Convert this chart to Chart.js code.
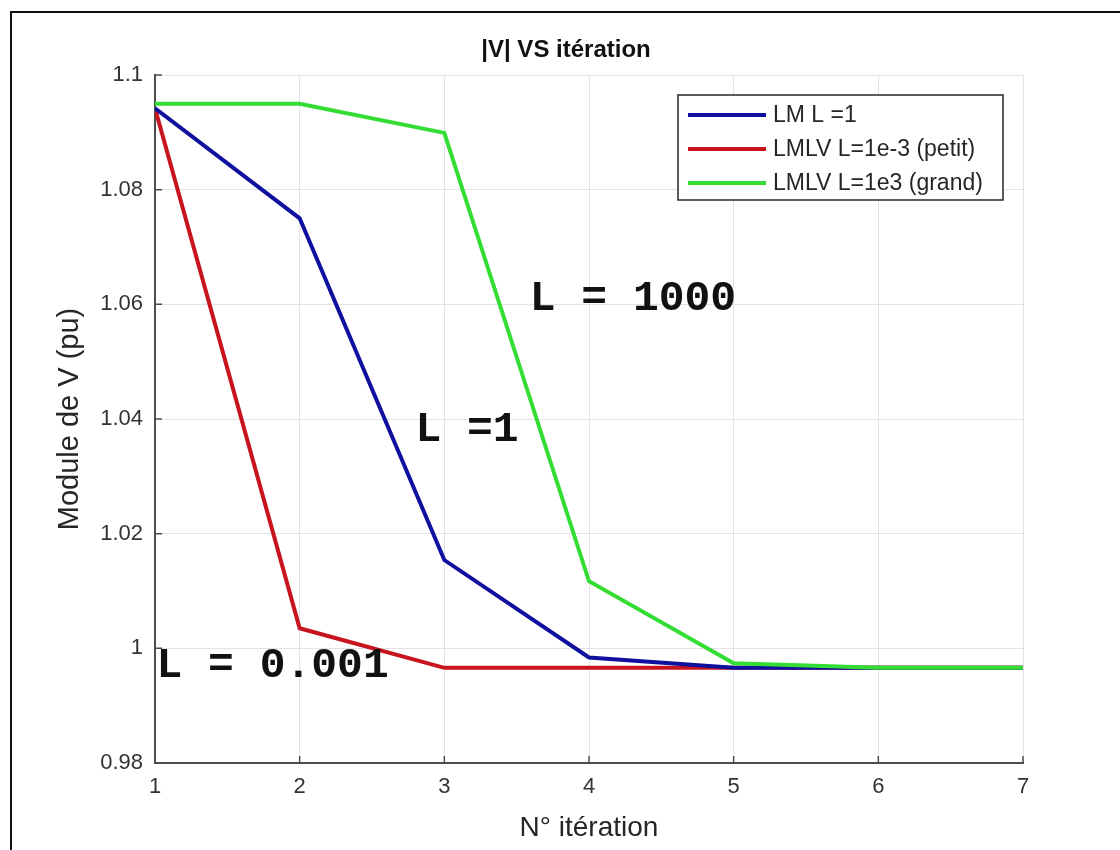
<!DOCTYPE html>
<html>
<head>
<meta charset="utf-8">
<script src="https://cdn.jsdelivr.net/npm/chart.js@4.4.1/dist/chart.umd.min.js"></script>
<style>
    html, body { margin: 0; padding: 0; background: #fff; overflow: hidden; }
    #wrap { position: relative; width: 1120px; height: 850px; }
    #frame {
        position: absolute; left: 10px; top: 11px; width: 1200px; height: 900px;
        border-top: 2px solid #111; border-left: 2px solid #111;
    }
    canvas { position: absolute; left: 0; top: 0; }
</style>
</head>
<body>
<div id="wrap">
    <div id="frame"></div>
    <canvas id="vChart" width="1120" height="850"></canvas>
</div>
<script>
const iterations = [1, 2, 3, 4, 5, 6, 7];
const lmL1 = [1.0942, 1.0750, 1.0154, 0.9984, 0.9966, 0.9966, 0.9966];
const lmlvPetit = [1.0942, 1.0035, 0.9966, 0.9966, 0.9966, 0.9966, 0.9966];
const lmlvGrand = [1.0950, 1.0950, 1.0899, 1.0117, 0.9974, 0.9966, 0.9966];
const yTicks = [0.98, 1, 1.02, 1.04, 1.06, 1.08, 1.1];
const seriesLabels = ['LM L =1', 'LMLV L=1e-3 (petit)', 'LMLV L=1e3 (grand)'];
const notes = [
    { text: 'L = 1000', x: 3.59, y: 1.0590 },
    { text: 'L =1', x: 2.80, y: 1.0361 },
    { text: 'L = 0.001', x: 1.01, y: 0.9950 }
];
const chartTitle = '|V| VS itération';

const colors = ['#10109e', '#c8141e', '#33dd33'];
const drawOrder = [1, 2, 0]; // green on top, red at the bottom
const sans = "'Liberation Sans', Arial, Helvetica, sans-serif";
const toXY = arr => arr.map((v, i) => ({ x: iterations[i], y: v }));

// MATLAB style: ticks pointing into the axes
const innerTicks = {
    id: 'innerTicks',
    afterDraw(chart) {
        const { ctx, chartArea: a, scales: { x, y } } = chart;
        ctx.save();
        ctx.strokeStyle = '#4d4d4d';
        ctx.lineWidth = 1.5;
        ctx.beginPath();
        iterations.forEach(v => {
            const px = x.getPixelForValue(v);
            ctx.moveTo(px, a.bottom); ctx.lineTo(px, a.bottom - 7);
        });
        yTicks.forEach(v => {
            const py = y.getPixelForValue(v);
            ctx.moveTo(a.left, py); ctx.lineTo(a.left + 7, py);
        });
        ctx.stroke();
        ctx.restore();
    }
};

const notesAndLegend = {
    id: 'notesAndLegend',
    afterDatasetsDraw(chart) {
        const { ctx, chartArea: a, scales: { x, y } } = chart;
        ctx.save();

        // title, a bit left of the axes centre like the original
        ctx.fillStyle = '#111';
        ctx.font = 'bold 24px ' + sans;
        ctx.textAlign = 'center';
        ctx.textBaseline = 'middle';
        ctx.fillText(chartTitle, (a.left + a.right) / 2 - 23, a.top - 25);

        ctx.textAlign = 'left';
        ctx.textBaseline = 'alphabetic';
        ctx.font = "bold 43px 'Liberation Mono', 'Courier New', monospace";
        notes.forEach(n => ctx.fillText(n.text, x.getPixelForValue(n.x), y.getPixelForValue(n.y)));

        // legend box, top right inside the axes
        const w = 325, h = 105;
        const lx = a.right - 20 - w, ly = a.top + 20;
        ctx.fillStyle = '#fff';
        ctx.fillRect(lx, ly, w, h);
        ctx.strokeStyle = '#262626';
        ctx.lineWidth = 1.5;
        ctx.strokeRect(lx, ly, w, h);
        ctx.font = '23px ' + sans;
        ctx.textBaseline = 'middle';
        chart.data.datasets.forEach((ds, i) => {
            const cy = ly + 20 + i * 34;
            ctx.strokeStyle = ds.borderColor;
            ctx.lineWidth = 4;
            ctx.beginPath();
            ctx.moveTo(lx + 10, cy); ctx.lineTo(lx + 88, cy);
            ctx.stroke();
            ctx.fillStyle = '#262626';
            ctx.fillText(ds.label, lx + 95, cy + 1);
        });
        ctx.restore();
    }
};

new Chart(document.getElementById('vChart'), {
    type: 'line',
    data: {
        datasets: [lmL1, lmlvPetit, lmlvGrand].map((arr, i) => ({
            label: seriesLabels[i],
            data: toXY(arr),
            borderColor: colors[i],
            borderWidth: 4,
            pointRadius: 0,
            tension: 0,
            fill: false,
            order: drawOrder[i]
        }))
    },
    options: {
        responsive: false,
        animation: false,
        layout: { padding: { left: 0, right: 97, top: 75, bottom: 0 } },
        plugins: {
            legend: { display: false },
            tooltip: { enabled: false },
            title: { display: false }
        },
        scales: {
            x: {
                type: 'linear',
                min: 1, max: 7,
                afterFit: s => { s.height = 87; },
                ticks: { stepSize: 1, color: '#333', padding: 11, font: { family: sans, size: 22 } },
                grid: { color: '#e3e3e3', lineWidth: 1, drawTicks: false },
                border: { color: '#4d4d4d', width: 2 },
                title: {
                    display: true, text: 'N° itération', color: '#262626',
                    font: { family: sans, size: 28 }, padding: { top: 0, bottom: 5 }
                }
            },
            y: {
                min: 0.98, max: 1.1,
                afterFit: s => { s.width = 155; },
                afterBuildTicks: s => { s.ticks = yTicks.map(v => ({ value: v })); },
                ticks: {
                    color: '#333', padding: 12, font: { family: sans, size: 22 },
                    callback: v => String(parseFloat(v.toFixed(2)))
                },
                grid: { color: '#e3e3e3', lineWidth: 1, drawTicks: false },
                border: { color: '#4d4d4d', width: 2 },
                title: {
                    display: true, text: 'Module de V (pu)', color: '#262626',
                    font: { family: sans, size: 29 }, padding: { top: 53, bottom: 0 }
                }
            }
        }
    },
    plugins: [innerTicks, notesAndLegend]
});
</script>
</body>
</html>
